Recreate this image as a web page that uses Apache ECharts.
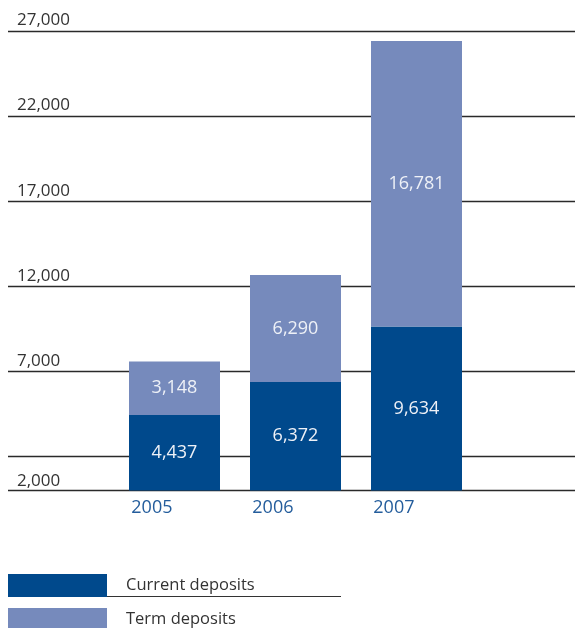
<!DOCTYPE html>
<html>
<head>
<meta charset="utf-8">
<script src="https://cdn.jsdelivr.net/npm/echarts@6/dist/echarts.min.js"></script>
<style>
  html, body { margin: 0; padding: 0; background: #fff; }
  #chart { width: 575px; height: 628px; }
</style>
</head>
<body>
<div id="chart"></div>
<script>
// Deposits by year (stacked)
const years = ['2005', '2006', '2007'];
const currentDeposits = [4437, 6372, 9634];
const termDeposits = [3148, 6290, 16781];

// Horizontal rules and their labels
const ruleValues = [0, 2000, 7000, 12000, 17000, 22000, 27000];
const ruleLabels = ['', '2,000', '7,000', '12,000', '17,000', '22,000', '27,000'];

const FONT = 'Open Sans';
const DARK = '#00498c';
const LIGHT = '#768abc';

const ruleData = ruleValues.map((v, i) => {
  const below = ruleLabels[i] === '2,000';
  return {
    yAxis: v,
    label: {
      show: ruleLabels[i] !== '',
      formatter: ruleLabels[i],
      position: below ? 'insideStartBottom' : 'insideStartTop',
      distance: below ? [9, 16] : [9, 2]
    }
  };
});

const valueLabel = {
  show: true, position: 'inside', color: '#eef1f7',
  fontFamily: FONT, fontSize: 18,
  formatter: p => p.value.toLocaleString('en-US')
};

const legendBase = {
  orient: 'vertical', left: 8, padding: 0,
  itemWidth: 99, itemHeight: 23,
  icon: 'rect',
  textStyle: { color: '#333', fontFamily: FONT, fontSize: 16.5, padding: [0, 0, 0, 14] }
};

const chart = echarts.init(document.getElementById('chart'), null, { renderer: 'canvas' });
chart.setOption({
  animation: false,
  backgroundColor: '#fff',
  grid: [
    { left: 8, right: 0, top: 31, height: 459.5 },
    { left: 114, width: 363, top: 31, height: 459.5 }
  ],
  xAxis: [
    { gridIndex: 0, type: 'category', data: [''], show: false },
    {
      gridIndex: 1, type: 'category', data: years,
      axisLine: { show: false }, axisTick: { show: false },
      axisLabel: {
        color: '#245d9c', fontFamily: FONT, fontSize: 18,
        align: 'right', margin: 8, padding: [0, 2, 0, 0]
      }
    }
  ],
  yAxis: [
    { gridIndex: 0, type: 'value', min: 0, max: 27000, show: false },
    { gridIndex: 1, type: 'value', min: 0, max: 27000, show: false }
  ],
  legend: [
    Object.assign({}, legendBase, { top: 574, data: ['Current deposits'] }),
    Object.assign({}, legendBase, { top: 608, data: ['Term deposits'] })
  ],
  graphic: [
    {
      type: 'line', silent: true, z: 0,
      shape: { x1: 107, y1: 596.5, x2: 341, y2: 596.5 },
      style: { stroke: '#333', lineWidth: 1 }
    }
  ],
  series: [
    {
      type: 'line', xAxisIndex: 0, yAxisIndex: 0, data: [], silent: true, z: 1,
      markLine: {
        silent: true, symbol: 'none', animation: false, z: 1,
        lineStyle: { color: '#2a2a2a', width: 1.3, type: 'solid' },
        label: { color: '#333', fontFamily: FONT, fontSize: 17 },
        data: ruleData
      }
    },
    {
      name: 'Current deposits', type: 'bar', stack: 'dep', z: 3,
      xAxisIndex: 1, yAxisIndex: 1, barWidth: 91,
      itemStyle: { color: DARK },
      label: valueLabel,
      data: currentDeposits
    },
    {
      name: 'Term deposits', type: 'bar', stack: 'dep', z: 3,
      xAxisIndex: 1, yAxisIndex: 1, barWidth: 91,
      itemStyle: { color: LIGHT },
      label: valueLabel,
      data: termDeposits
    }
  ]
});
</script>
</body>
</html>
